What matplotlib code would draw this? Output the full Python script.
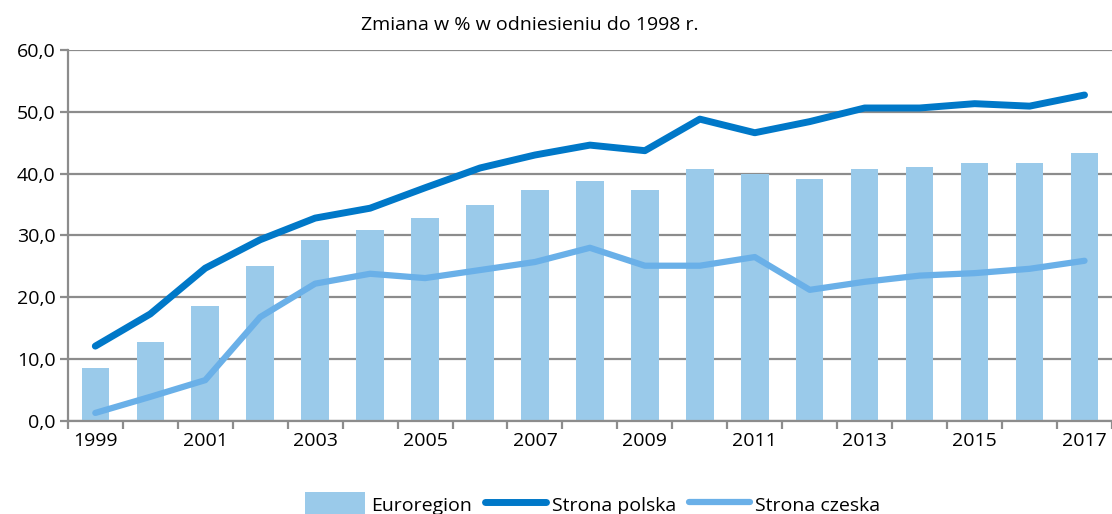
import matplotlib
matplotlib.use("Agg")
import matplotlib.pyplot as plt
import numpy as np

years = list(range(1999, 2018))
euroregion = [8.6, 12.8, 18.6, 25.1, 29.3, 30.9, 32.8, 34.9, 37.4, 38.8, 37.4,
              40.8, 39.9, 39.1, 40.8, 41.1, 41.7, 41.7, 43.4]
strona_polska = [12.1, 17.3, 24.7, 29.3, 32.8, 34.4, 37.7, 40.9, 43.0, 44.6, 43.7,
                 48.8, 46.6, 48.4, 50.6, 50.6, 51.3, 50.9, 52.7]
strona_czeska = [1.3, 3.9, 6.6, 16.8, 22.2, 23.8, 23.1, 24.4, 25.7, 28.0, 25.1,
                 25.1, 26.5, 21.2, 22.5, 23.5, 23.9, 24.6, 25.9]
y_ticks = [0, 10, 20, 30, 40, 50, 60]
y_labels = ["0,0", "10,0", "20,0", "30,0", "40,0", "50,0", "60,0"]
title = "Zmiana w % w odniesieniu do 1998 r."

plt.rcParams["font.family"] = ["Open Sans", "DejaVu Sans"]
fs = 14

fig = plt.figure(figsize=(11.12, 5.14), dpi=100)
ax = fig.add_axes([0.061, 0.181, 0.939, 0.722])

x = np.arange(len(years))
grid_col = "#8c8c8c"

bars = ax.bar(x, euroregion, width=0.5, color="#9acaea", zorder=2, label="Euroregion")
l1, = ax.plot(x, strona_polska, color="#0078c8", lw=5, solid_capstyle="round",
              solid_joinstyle="round", zorder=3, label="Strona polska")
l2, = ax.plot(x, strona_czeska, color="#6ab0e8", lw=4.5, solid_capstyle="round",
              solid_joinstyle="round", zorder=3, label="Strona czeska")

ax.set_xlim(-0.5, len(years) - 0.5)
ax.set_ylim(0, 60)
ax.set_yticks(y_ticks)
ax.set_yticklabels(y_labels, fontsize=fs)
ax.yaxis.grid(True, color=grid_col, lw=1.6, zorder=0)
ax.set_axisbelow(True)

# ticks at category boundaries, labels every other year
ax.set_xticks(np.arange(len(years) + 1) - 0.5)
ax.set_xticklabels([])
ax.set_xticks(x[::2], minor=True)
ax.set_xticklabels([str(y) for y in years[::2]], minor=True, fontsize=fs)
ax.tick_params(axis="x", which="major", length=6, width=1.6, color=grid_col)
ax.tick_params(axis="x", which="minor", length=0, pad=8)
ax.tick_params(axis="y", length=6, width=1.6, color=grid_col, pad=3)

for s in ["top", "right"]:
    ax.spines[s].set_visible(False)
for s in ["left", "bottom"]:
    ax.spines[s].set_color(grid_col)
    ax.spines[s].set_linewidth(1.6)

fig.text(530 / 1112, 1 - 25 / 514, title, ha="center", va="center", fontsize=fs)

fig.legend([bars, l1, l2], ["Euroregion", "Strona polska", "Strona czeska"],
           loc="lower center", bbox_to_anchor=(0.533, -0.04), ncol=3, frameon=False,
           fontsize=fs, handlelength=3.1, handleheight=1.6, columnspacing=0.7,
           handletextpad=0.3)

fig.savefig("out.png", dpi=100)
